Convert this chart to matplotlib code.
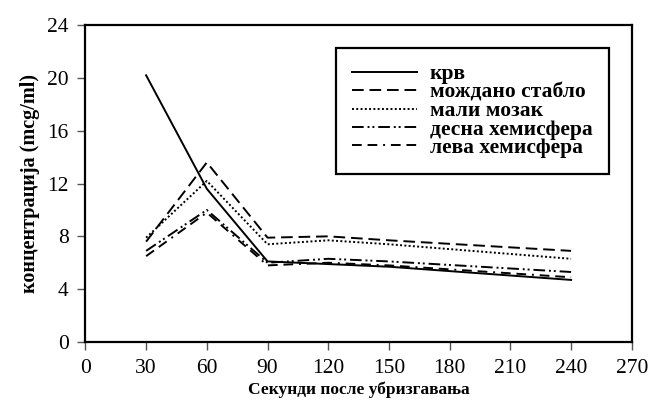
import matplotlib
matplotlib.use("Agg")
import matplotlib.pyplot as plt

plt.rcParams['font.family'] = ['Liberation Serif', 'DejaVu Serif']

seconds = [30, 60, 90, 120, 150, 240]
krv = [20.2, 11.6, 6.1, 5.9, 5.7, 4.7]
mozdano = [7.6, 13.6, 7.9, 8.0, 7.7, 6.9]
mali = [7.9, 12.2, 7.4, 7.7, 7.4, 6.3]
desna = [6.9, 10.0, 6.0, 6.3, 6.1, 5.3]
leva = [6.5, 9.8, 5.8, 6.0, 5.8, 4.9]

xticks = list(range(0, 271, 30))
yticks = list(range(0, 25, 4))

fig = plt.figure(figsize=(6.52, 4.12), dpi=100)
ax = fig.add_axes([0.131, 0.170, 0.838, 0.769])

lw = 1.4
ax.plot(seconds, krv, color="black", lw=lw, label="крв")
ax.plot(seconds, mozdano, color="black", lw=lw, dashes=(6, 3), label="мождано стабло")
ax.plot(seconds, mali, color="black", lw=lw, dashes=(1, 1.2), label="мали мозак")
ax.plot(seconds, desna, color="black", lw=lw, dashes=(6, 2, 1, 1.5, 1, 2), label="десна хемисфера")
ax.plot(seconds, leva, color="black", lw=lw, dashes=(5, 3, 5, 3, 1, 3), label="лева хемисфера")

ax.set_xlim(0, 270)
ax.set_ylim(0, 24)
ax.set_xticks(xticks)
ax.set_yticks(yticks)
ax.tick_params(labelsize=15.5, length=6, width=1, color="#555555", pad=6)
for s in ax.spines.values():
    s.set_linewidth(1.6)

ax.set_xlabel("Секунди после убризгавања", fontsize=12.5, fontweight="bold", labelpad=3)
ax.set_ylabel("концентрација (mcg/ml)", fontsize=14.5, fontweight="bold", labelpad=5)

leg = ax.legend(loc="upper right", bbox_to_anchor=(0.958, 0.927),
                prop={"size": 15.5, "weight": "bold"},
                handlelength=3.0, handletextpad=0.6, labelspacing=-0.08,
                borderpad=0.75, borderaxespad=0, fancybox=False, framealpha=1)
leg.get_frame().set_edgecolor("black")
leg.get_frame().set_linewidth(1.6)

fig.savefig("out.png", dpi=100)
